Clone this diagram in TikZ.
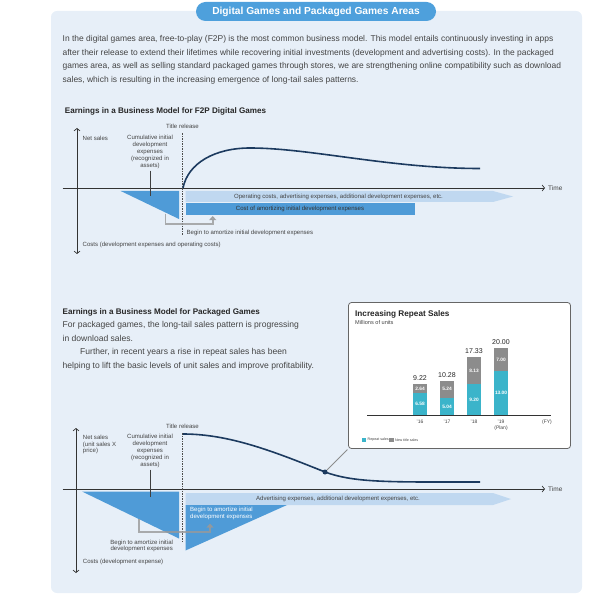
\documentclass[tikz,border=0pt]{standalone}
\usepackage{fontspec}
\setmainfont{Liberation Sans}
\usetikzlibrary{arrows.meta}
\definecolor{panelblue}{RGB}{231,239,248}
\definecolor{pillblue}{RGB}{78,160,220}
\definecolor{costblue}{RGB}{79,155,215}
\definecolor{bandblue}{RGB}{192,216,240}
\definecolor{curvenavy}{RGB}{28,58,95}
\definecolor{textgray}{RGB}{68,68,68}
\definecolor{repeatcyan}{RGB}{59,180,202}
\definecolor{newgray}{RGB}{140,140,140}
\newcommand{\fsz}[2]{\fontsize{#1}{#2}\selectfont}

\begin{document}
\begin{tikzpicture}[x=1pt,y=-1pt]
  \tikzstyle{note}=[font=\fsz{6.05}{6.8},text=textgray,inner sep=0pt]
  \tikzstyle{heading}=[font=\bfseries\fsz{8.1}{9},text=black!85,inner sep=0pt,anchor=west]
  \tikzstyle{para}=[font=\fsz{8.45}{13.5},text=textgray,inner sep=0pt,align=left,anchor=north west]
  \tikzstyle{chartaxis}=[draw=black!80,line width=0.7pt,>={Straight Barb[length=2.5pt,width=6pt]}]
  \tikzstyle{salescurve}=[draw=curvenavy,line width=1.6pt]
  \tikzstyle{releaseline}=[draw=black!70,line width=0.6pt,dash pattern=on 1.5pt off 1pt]
  \tikzstyle{leader}=[draw=black!75,line width=0.6pt]
  \tikzstyle{amortarrow}=[draw=black!40,line width=1.8pt,opacity=0.8,-{Triangle[length=4pt,width=7pt]}]
  \tikzstyle{barval}=[font=\fsz{7}{8},text=black!85,inner sep=0pt]
  \tikzstyle{barin}=[font=\bfseries\fsz{4.8}{5},text=white,inner sep=0pt]
  \tikzstyle{yearlbl}=[font=\fsz{5}{5.5},text=textgray,inner sep=0pt]

  \useasboundingbox (0,0) rectangle (610,596);
  \fill[panelblue,rounded corners=6pt] (51,11) rectangle (582,593);
  \node[fill=pillblue,text=white,font=\bfseries\fsz{10.2}{11},rounded corners=9.5pt,
        minimum width=240pt,minimum height=19pt,inner sep=0pt] (pill) at (316,11.5)
        {Digital Games and Packaged Games Areas};
  \node[para] (intro) at (62.5,35.2)
    {In the digital games area, free-to-play (F2P) is the most common business model. This model entails continuously investing in apps\\
     after their release to extend their lifetimes while recovering initial investments (development and advertising costs). In the packaged\\
     games area, as well as selling standard packaged games through stores, we are strengthening online compatibility such as download\\
     sales, which is resulting in the increasing emergence of long-tail sales patterns.};

  % F2P digital games
  \begin{scope}
    \node[heading] (f2pHead) at (64.7,111.7) {Earnings in a Business Model for F2P Digital Games};
    \fill[costblue] (120.7,191) -- (179,191) -- (179,219) -- cycle;
    \fill[bandblue] (185.5,191) -- (493,191) -- (513,196.5) -- (493,202) -- (185.5,202) -- cycle;
    \fill[costblue] (186,203.4) rectangle (415,214.8);
    \coordinate (f2pTop) at (77,128);
    \coordinate (f2pBottom) at (77,254);
    \coordinate (f2pLeft) at (62.5,188);
    \coordinate (f2pRight) at (545,188);
    \draw[chartaxis,<->] (f2pBottom) -- (f2pTop);
    \draw[chartaxis,->] (f2pLeft) -- (f2pRight);
    \node[note,anchor=west,font=\fsz{6.5}{7}] (f2pTime) at (548,188.5) {Time};
    \node[note,anchor=west] (f2pNet) at (82.5,138) {Net sales};
    \node[note,align=center] (f2pCum) at (150,152) {Cumulative initial\\development\\expenses\\(recognized in\\assets)};
    \coordinate (f2pCumEnd) at (150,196);
    \draw[leader,shorten <=2pt] (f2pCum.south) -- (f2pCumEnd);
    \node[note] (f2pRelease) at (182.5,126) {Title release};
    \coordinate (f2pReleaseEnd) at (182.5,235);
    \draw[releaseline,shorten <=5pt] (f2pRelease.south) -- (f2pReleaseEnd);
    \node[note] (f2pOpText) at (338.5,196.8) {Operating costs, advertising expenses, additional development expenses, etc.};
    \node[note,text=black!80] (f2pAmText) at (300,209.2) {Cost of amortizing initial development expenses};
    \coordinate (f2pBrA) at (165.5,213.5);
    \coordinate (f2pBrB) at (212.7,216);
    \draw[amortarrow] (f2pBrA) -- ++(0,10.5) -| (f2pBrB);
    \node[note,anchor=west] (f2pBegin) at (186.5,232.6) {Begin to amortize initial development expenses};
    \node[note,anchor=west] (f2pCosts) at (82.5,244.5) {Costs (development expenses and operating costs)};
    \coordinate (f2pStart) at (183,188);
    \draw[salescurve] (f2pStart) .. controls (188,163) and (215,148) .. (250,148)
                      .. controls (310,148) and (390,168.5) .. (480,168.5);
  \end{scope}

  % Packaged games
  \begin{scope}
    \node[heading] (pkgHead) at (62.5,312.5) {Earnings in a Business Model for Packaged Games};
    \node[para,font=\fsz{8.55}{13.4}] (pkgBody) at (62.5,321.5)
      {For packaged games, the long-tail sales pattern is progressing\\
       in download sales.\\
       \hspace*{17.5pt}Further, in recent years a rise in repeat sales has been\\
       helping to lift the basic levels of unit sales and improve profitability.};
    \fill[costblue] (82,491.5) -- (179,491.5) -- (179,538.5) -- cycle;
    \fill[bandblue] (185.5,493) -- (493,493) -- (511,499) -- (493,505) -- (185.5,505) -- cycle;
    \fill[costblue] (185.5,505) -- (287,505) -- (185.5,550.5) -- cycle;
    \coordinate (pkgTop) at (76,428);
    \coordinate (pkgBottom) at (76,573);
    \coordinate (pkgLeft) at (62.5,489);
    \coordinate (pkgRight) at (545,489);
    \draw[chartaxis,<->] (pkgBottom) -- (pkgTop);
    \draw[chartaxis,->] (pkgLeft) -- (pkgRight);
    \node[note,anchor=west,font=\fsz{6.5}{7}] (pkgTime) at (548,489.5) {Time};
    \node[note,anchor=west,align=left] (pkgNet) at (82.7,444.5) {Net sales\\(unit sales X\\price)};
    \node[note,align=center] (pkgCum) at (150,451) {Cumulative initial\\development\\expenses\\(recognized in\\assets)};
    \coordinate (pkgCumEnd) at (150,497);
    \draw[leader,shorten <=2pt] (pkgCum.south) -- (pkgCumEnd);
    \node[note] (pkgRelease) at (182.5,426) {Title release};
    \coordinate (pkgReleaseEnd) at (182.5,541);
    \draw[releaseline,shorten <=5pt] (pkgRelease.south) -- (pkgReleaseEnd);
    \node[note] (pkgAdText) at (338,499.2) {Advertising expenses, additional development expenses, etc.};
    \node[note,text=white,anchor=west,align=left] (pkgAmText) at (190,513.3) {Begin to amortize initial\\development expenses};
    \coordinate (pkgBrA) at (139,519);
    \coordinate (pkgBrB) at (210,523.5);
    \draw[amortarrow] (pkgBrA) -- ++(0,12.7) -| (pkgBrB);
    \node[note,align=center] (pkgBegin) at (141.7,546) {Begin to amortize initial\\development expenses};
    \node[note,anchor=west] (pkgCosts) at (82.7,561.7) {Costs (development expense)};
    \node[circle,fill=curvenavy,minimum size=5pt,inner sep=0pt] (pkgDot) at (325,472) {};
    \coordinate (pkgStart) at (183,434);
    \draw[salescurve] (pkgStart) .. controls (230,434) and (275,452) .. (pkgDot.center)
                      .. controls (355,483) and (390,482) .. (480,482);
  \end{scope}

  % Increasing repeat sales
  \begin{scope}
    \node[draw=black!60,fill=white,line width=0.8pt,rounded corners=3pt,
          minimum width=222pt,minimum height=146pt,inner sep=0pt] (repeatBox) at (459.5,375.5) {};
    \draw[draw=black!45,line width=1pt,shorten <=1pt] (repeatBox.south west) -- (pkgDot);
    \node[heading,font=\bfseries\fsz{8.2}{9}] (boxTitle) at (355,314) {Increasing Repeat Sales};
    \node[note,anchor=west,font=\fsz{5.6}{6}] (boxUnit) at (355,322.7) {Millions of units};
    % bars
    \fill[repeatcyan] (413.3,415) rectangle (426.7,392.9);
    \fill[newgray]    (413.3,392.9) rectangle (426.7,384.0);
    \fill[repeatcyan] (440.3,415) rectangle (453.7,398.1);
    \fill[newgray]    (440.3,398.1) rectangle (453.7,380.5);
    \fill[repeatcyan] (467.3,415) rectangle (480.7,384.1);
    \fill[newgray]    (467.3,384.1) rectangle (480.7,356.8);
    \fill[repeatcyan] (494.3,415) rectangle (507.7,371.3);
    \fill[newgray]    (494.3,371.3) rectangle (507.7,347.8);
    \coordinate (barAxisL) at (367,415);
    \coordinate (barAxisR) at (551,415);
    \draw[black!80,line width=0.7pt] (barAxisL) -- (barAxisR);
    \node[barval,above=3pt] (v16) at (420,384.0) {9.22};
    \node[barval,above=3pt] (v17) at (447,380.5) {10.28};
    \node[barval,above=3pt] (v18) at (474,356.8) {17.33};
    \node[barval,above=3pt] (v19) at (501,347.8) {20.00};
    \node[barin] (r16) at (420,404.0) {6.58};
    \node[barin] (n16) at (420,388.5) {2.64};
    \node[barin] (r17) at (447,406.5) {5.04};
    \node[barin] (n17) at (447,389.3) {5.24};
    \node[barin] (r18) at (474,399.5) {9.20};
    \node[barin] (n18) at (474,370.5) {8.13};
    \node[barin] (r19) at (501,393.2) {13.00};
    \node[barin] (n19) at (501,359.5) {7.00};
    \node[yearlbl] (y16) at (420,422) {'16};
    \node[yearlbl] (y17) at (447,422) {'17};
    \node[yearlbl] (y18) at (474,422) {'18};
    \node[yearlbl] (y19) at (501,422) {'19};
    \node[yearlbl] (yPlan) at (501,428) {(Plan)};
    \node[yearlbl] (yFY) at (547,422) {(FY)};
    % legend
    \fill[repeatcyan] (361.7,438) rectangle (366.2,442);
    \node[yearlbl,anchor=west,font=\fsz{3.6}{4}] (legRepeat) at (367.5,440) {Repeat sales};
    \fill[newgray] (389,438) rectangle (393.5,442);
    \node[yearlbl,anchor=west,font=\fsz{3.6}{4}] (legNew) at (394.8,440) {New title sales};
  \end{scope}
\end{tikzpicture}
\end{document}
